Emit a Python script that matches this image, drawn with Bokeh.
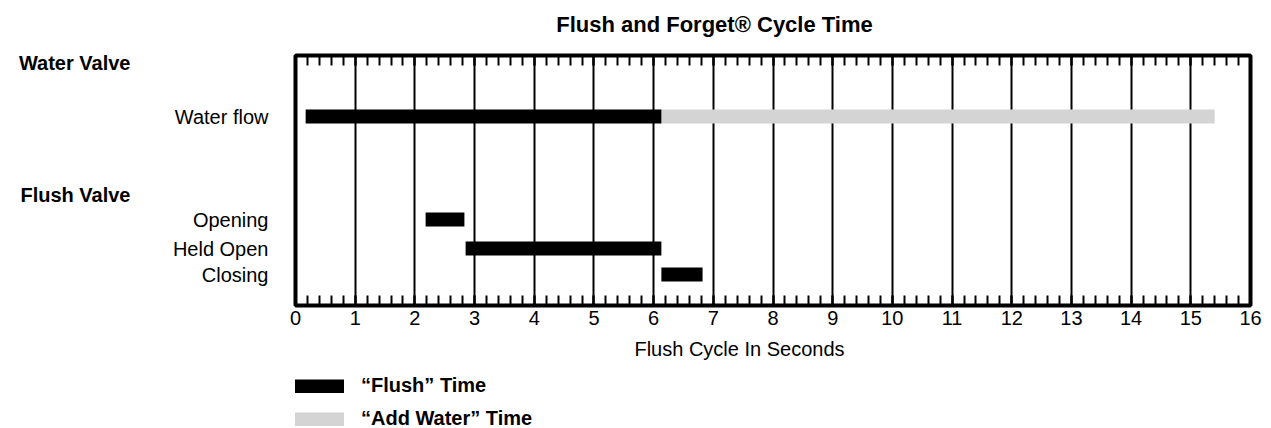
from bokeh.plotting import figure
from bokeh.layouts import column
from bokeh.models import (Range1d, LinearAxis, SingleIntervalTicker, FixedTicker, Label,
                          Legend, LegendItem, ColumnDataSource, CustomJSTickFormatter)
from bokeh.embed import file_html
from bokeh.resources import INLINE

# ---- data ----
rows = ["Water flow", "Opening", "Held Open", "Closing"]
flush_start = [0.17, 2.18, 2.85, 6.13]
flush_end = [6.13, 2.83, 6.13, 6.82]
add_rows = ["Water flow"]
add_start = [6.13]
add_end = [15.4]
groups = ["Water Valve", "Flush Valve"]
title_text = "Flush and Forget\u00ae Cycle Time"
x_label = "Flush Cycle In Seconds"
legend_labels = ["\u201cFlush\u201d Time", "\u201cAdd Water\u201d Time"]

# ---- layout (row positions, pixels below the frame top) ----
row_pos = {"Water flow": 61, "Opening": 164, "Held Open": 193, "Closing": 219}
group_pos = {"Water Valve": 7, "Flush Valve": 139}
FONT = "Liberation Sans"
BLACK = "#000000"
GRAY = "#d4d4d4"
W = 1263
FRAME_L, FRAME_R = 295, 1250   # page pixels of the chart frame
TOP_H = 51       # title strip
MAIN_H = 284     # chart
BOT_H = 93       # axis title + legend strip


def strip(height):
    f = figure(width=W, height=height, x_range=Range1d(FRAME_L, FRAME_R),
               y_range=Range1d(height, 0), title=None,
               output_backend="svg", toolbar_location=None,
               min_border_left=FRAME_L, min_border_right=W - FRAME_R,
               min_border_top=0, min_border_bottom=0,
               x_axis_location=None, y_axis_location=None)
    f.outline_line_color = None
    f.xgrid.visible = False
    f.ygrid.visible = False
    f.background_fill_color = "white"
    f.border_fill_color = "white"
    return f


# ---- title strip ----
top = strip(TOP_H)
top.add_layout(Label(x=714, y=24, text=title_text, text_font=FONT, text_font_size="22px",
                     text_font_style="bold", text_align="center", text_baseline="alphabetic",
                     text_color=BLACK))

# ---- main chart ----
p = figure(width=W, height=MAIN_H, x_range=Range1d(0, 16), y_range=Range1d(250, 0),
           output_backend="svg", toolbar_location=None,
           min_border_left=FRAME_L, min_border_right=W - FRAME_R, min_border_top=4,
           min_border_bottom=30, x_axis_location=None, y_axis_location=None)
p.background_fill_color = "white"
p.border_fill_color = "white"
p.outline_line_color = BLACK
p.outline_line_width = 4

ticker = SingleIntervalTicker(interval=1, num_minor_ticks=5)

xb = LinearAxis(ticker=ticker)
xt = LinearAxis(ticker=ticker, formatter=CustomJSTickFormatter(code="return ''"),
                fixed_location=0)
for ax in (xb, xt):
    ax.axis_line_color = None
    ax.major_tick_in = 10
    ax.major_tick_out = 0
    ax.minor_tick_in = 10
    ax.minor_tick_out = 0
    ax.major_tick_line_width = 2
    ax.minor_tick_line_width = 2
    ax.major_tick_line_color = BLACK
    ax.minor_tick_line_color = BLACK
xb.major_label_text_font = FONT
xb.major_label_text_font_size = "20px"
xb.major_label_text_color = BLACK
xb.major_label_standoff = 5
xt.major_label_standoff = 0
p.add_layout(xb, "below")
p.add_layout(xt, "above")

# row labels
yl = LinearAxis(ticker=FixedTicker(ticks=[row_pos[r] for r in rows]),
                major_label_overrides={row_pos[r]: r for r in rows})
# group headings
yg = LinearAxis(ticker=FixedTicker(ticks=[group_pos[g] for g in groups]),
                major_label_overrides={group_pos[g]: g for g in groups})
for ax, stand, style in ((yl, 27, "normal"), (yg, 39, "bold")):
    ax.axis_line_color = None
    ax.major_tick_line_color = None
    ax.minor_tick_line_color = None
    ax.major_tick_in = 0
    ax.major_tick_out = 0
    ax.major_label_standoff = stand
    ax.major_label_text_font = FONT
    ax.major_label_text_font_size = "20px"
    ax.major_label_text_font_style = style
    ax.major_label_text_color = BLACK
p.add_layout(yl, "left")
p.add_layout(yg, "left")

p.xgrid.ticker = SingleIntervalTicker(interval=1)
p.xgrid.grid_line_color = BLACK
p.xgrid.grid_line_width = 2
p.ygrid.visible = False

flush_src = ColumnDataSource(dict(y=[row_pos[r] for r in rows], left=flush_start, right=flush_end))
add_src = ColumnDataSource(dict(y=[row_pos[r] for r in add_rows], left=add_start, right=add_end))
p.hbar(y="y", left="left", right="right", height=14, source=add_src,
       fill_color=GRAY, line_color=None)
p.hbar(y="y", left="left", right="right", height=14, source=flush_src,
       fill_color=BLACK, line_color=None)

# ---- axis title + legend strip ----
bot = strip(BOT_H)
bot.add_layout(Label(x=739, y=13, text=x_label, text_font=FONT, text_font_size="20px",
                     text_align="center", text_baseline="alphabetic", text_color=BLACK))
# legend swatches (hidden renderers; only their legend glyphs are drawn)
rf = bot.line(x="left", y="y", source=flush_src, line_width=14, line_color=BLACK,
              line_cap="butt", visible=False)
ra = bot.line(x="left", y="y", source=add_src, line_width=14, line_color=GRAY,
              line_cap="butt", visible=False)
legend = Legend(items=[LegendItem(label=legend_labels[0], renderers=[rf]),
                       LegendItem(label=legend_labels[1], renderers=[ra])],
                location=(-1, -2), orientation="vertical",
                glyph_width=50, glyph_height=14, label_standoff=17,
                spacing=10, padding=0, margin=0,
                border_line_color=None, background_fill_alpha=0,
                label_text_font=FONT, label_text_font_style="bold",
                label_text_font_size="20px", label_text_color=BLACK)
bot.add_layout(legend, "center")

layout = column(top, p, bot, spacing=0)
open("out.html", "w").write(file_html(layout, INLINE))
